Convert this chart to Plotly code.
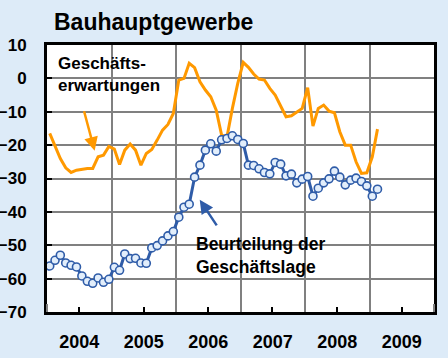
import pandas as pd
import plotly.graph_objects as go

# ---- data (monthly, Jan 2004 - Feb 2009) ----
start_month = "2004-01-01"
n_months = 62
months = pd.date_range(start_month, periods=n_months, freq="MS")

geschaeftslage = [-56.2, -54.5, -53.0, -55.3, -56.0, -56.5, -59.2, -60.8, -61.4, -59.8, -61.1, -60.2,
                  -56.6, -57.5, -52.6, -54.0, -53.9, -55.3, -55.4, -50.8, -50.1, -48.7, -47.2, -45.9,
                  -41.6, -38.6, -37.7, -29.6, -26.0, -21.5, -19.6, -21.8, -18.4, -18.0, -17.2, -18.3,
                  -19.5, -26.0, -26.1, -27.1, -28.2, -28.6, -25.2, -25.7, -29.2, -28.7, -31.3, -30.2,
                  -29.4, -35.3, -32.9, -31.3, -30.1, -27.8, -29.6, -31.9, -30.5, -29.9, -30.9, -32.2,
                  -35.3, -33.2]

geschaeftserwartungen = [-16.5, -20.0, -24.0, -26.8, -28.2, -27.5, -27.2, -27.0, -27.0, -23.5, -23.0, -20.4,
                         -21.2, -25.8, -21.5, -19.7, -21.5, -26.0, -22.5, -21.3, -18.5, -15.5, -13.8, -10.5,
                         -0.5, 0.0, 4.5, 3.2, -1.0, -3.5, -5.5, -9.5, -17.0, -17.5, -9.0, -1.5,
                         4.8, 3.3, 1.3, -0.2, -0.5, -3.0, -5.0, -8.3, -11.5, -11.2, -10.0, -9.0,
                         -2.8, -14.3, -9.0, -8.0, -9.8, -10.3, -16.0, -20.0, -20.0, -25.0, -28.5, -28.3,
                         -23.5, -15.2]

y_ticks = [-70, -60, -50, -40, -30, -20, -10, 0, 10]
title_text = "Bauhauptgewerbe"
label_erwartungen = "Geschäfts-<br>erwartungen"
label_lage = "Beurteilung der<br>Geschäftslage"

ORANGE = "#FF9900"
BLUE = "#2F5CA8"
BG = "#DDEBF8"
FONT = "Liberation Sans, Arial, sans-serif"

fig = go.Figure()
fig.add_trace(go.Scatter(
    x=months, y=geschaeftserwartungen, mode="lines",
    xperiod="M1", xperiodalignment="middle",
    line=dict(color=ORANGE, width=3), showlegend=False))
fig.add_trace(go.Scatter(
    x=months, y=geschaeftslage, mode="lines+markers",
    xperiod="M1", xperiodalignment="middle",
    line=dict(color=BLUE, width=3),
    marker=dict(size=8, color="#E2EEFB", line=dict(color=BLUE, width=1.6)),
    showlegend=False))

# white label backgrounds (between gridlines and traces)
fig.add_shape(type="rect", xref="paper", yref="paper", x0=0.0, x1=0.328, y0=0.745, y1=1.0,
              fillcolor="white", line=dict(width=0), layer="between")
fig.add_shape(type="rect", xref="paper", yref="paper", x0=0.3637, x1=0.788, y0=0.1086, y1=0.307,
              fillcolor="white", line=dict(width=0), layer="between")

fig.add_annotation(text=label_erwartungen, xref="paper", yref="paper", x=0.022, y=0.975,
                   xanchor="left", yanchor="top", align="left", showarrow=False,
                   font=dict(family=FONT, size=17, color="black", weight="bold"))
fig.add_annotation(text=label_lage, xref="paper", yref="paper", x=0.381, y=0.298,
                   xanchor="left", yanchor="top", align="left", showarrow=False,
                   font=dict(family=FONT, size=17.5, color="black", weight="bold"))

# arrows
fig.add_annotation(text="", x="2004-09-27", y=-21.7, ax=-11, ay=-41, showarrow=True,
                   arrowhead=2, arrowsize=1.1, arrowwidth=2.5, arrowcolor=ORANGE, standoff=0)
fig.add_annotation(text="", x="2006-05-15", y=-36.4, ax=18, ay=27, showarrow=True,
                   arrowhead=2, arrowsize=1.1, arrowwidth=2.5, arrowcolor=BLUE, standoff=0)

fig.update_layout(
    width=448, height=358,
    margin=dict(l=47, r=14, t=45, b=46, autoexpand=False),
    paper_bgcolor=BG, plot_bgcolor="white",
    title=dict(text=title_text, xref="container", yref="container", x=54/448, y=1-14/358,
               xanchor="left", yanchor="top",
               font=dict(family=FONT, size=23, color="black", weight="bold")),
    xaxis=dict(type="date", range=["2004-01-01", "2010-01-01"], dtick="M12", tick0="2004-01-01",
               ticklabelmode="period", tickformat="%Y", automargin=False,
               showgrid=True, gridcolor="#808080", gridwidth=2,
               ticks="inside", ticklen=8, tickwidth=2, tickcolor="#808080",
               showline=True, linecolor="black", linewidth=3, mirror=True,
               ticklabelstandoff=11,
               tickfont=dict(family=FONT, size=18, color="black", weight="bold"),
               minor=dict(ticks="inside", ticklen=5, tickwidth=2, tickcolor="black",
                          dtick="M12", tick0="2004-07-01", showgrid=False)),
    yaxis=dict(range=[-70, 10], tickvals=y_ticks, automargin=False,
               showgrid=True, gridcolor="#808080", gridwidth=2, zeroline=False,
               ticks="inside", ticklen=5, tickwidth=2, tickcolor="black",
               showline=True, linecolor="black", linewidth=3, mirror=True,
               ticklabelstandoff=14,
               tickfont=dict(family=FONT, size=17, color="black", weight="bold")),
)

fig.write_html("out.html", config={"displayModeBar": False},
               post_script="document.body.style.margin='0';document.body.style.background='%s';" % BG)
